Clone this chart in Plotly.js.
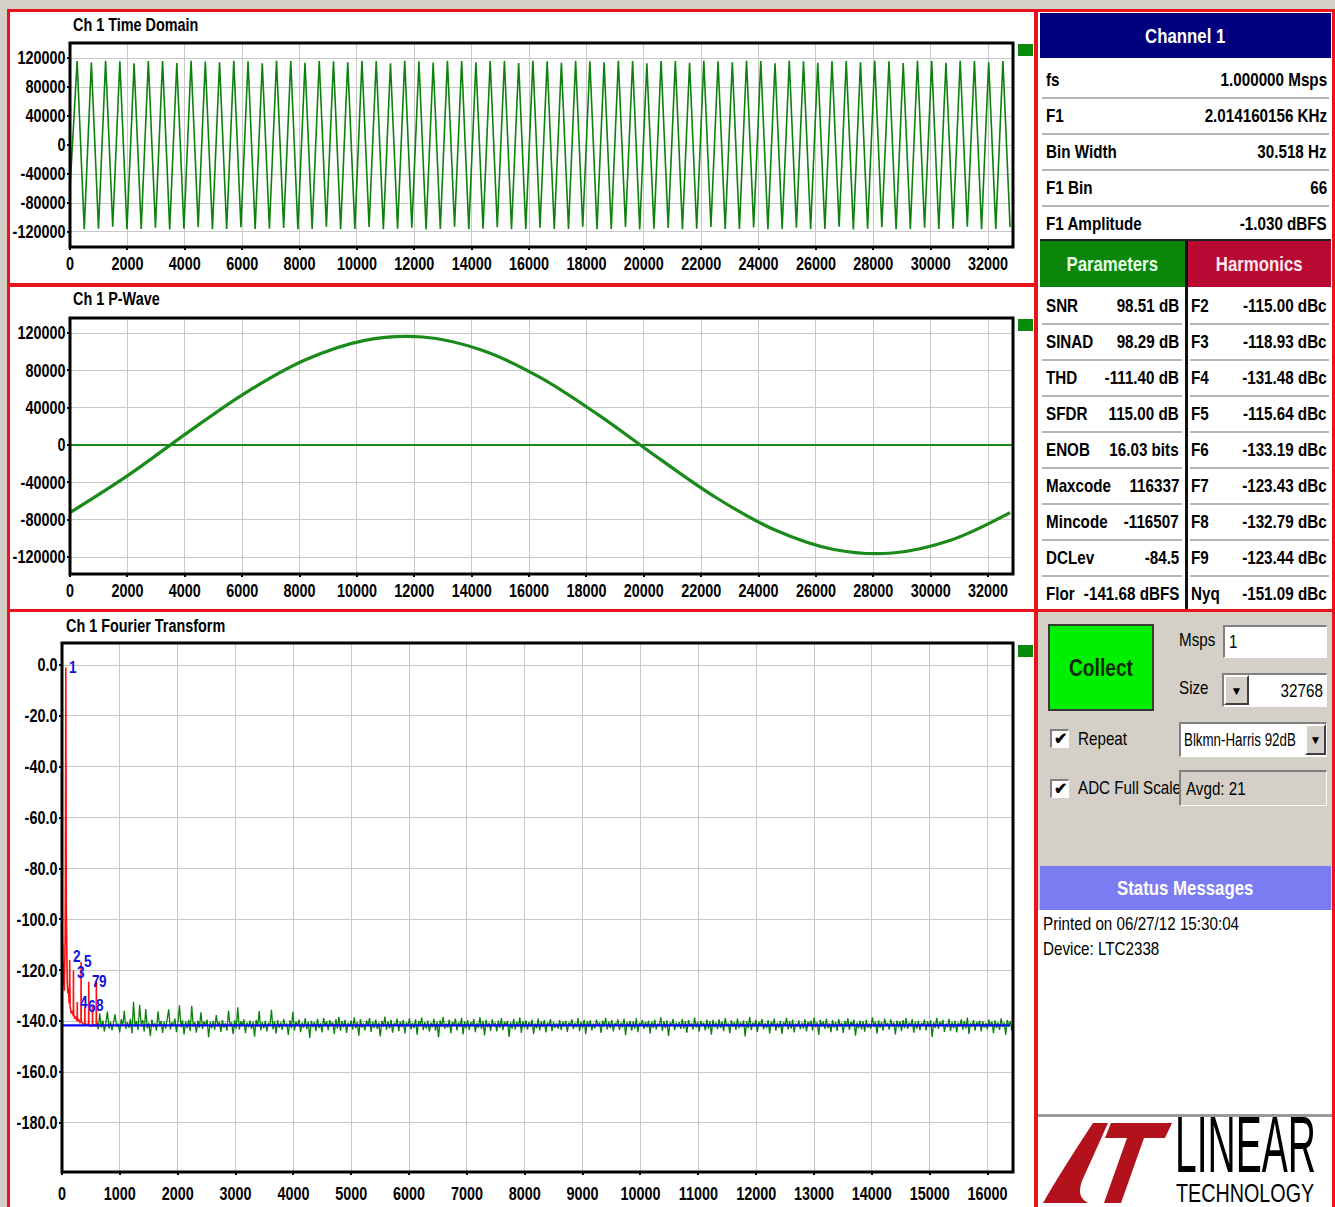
<!DOCTYPE html>
<html><head><meta charset="utf-8">
<script src="https://cdn.plot.ly/plotly-3.0.1.min.js"></script>
<style>
body{margin:0;background:#d4d0c8;width:1335px;height:1207px;overflow:hidden;position:relative;font-family:"Liberation Sans",Arial,sans-serif;}
.abs{position:absolute;box-sizing:border-box;}
.red{border:3px solid #e8141c;pointer-events:none;z-index:20;}
.row{position:absolute;box-sizing:border-box;font-weight:bold;font-size:19px;color:#000;white-space:nowrap;}
.row .l{position:absolute;left:0;top:0;transform:scaleX(0.8);transform-origin:left center;}
.row .v{position:absolute;right:0;top:0;transform:scaleX(0.8);transform-origin:right center;}
.sx{display:inline-block;transform:scaleX(0.8);}
.sep{position:absolute;height:2px;background:#b4b4b4;}
.inset{border-top:2px solid #808080;border-left:2px solid #808080;border-bottom:1px solid #fff;border-right:1px solid #fff;background:#fff;}
.btn{background:#d4d0c8;border-top:2px solid #fff;border-left:2px solid #fff;border-bottom:2px solid #404040;border-right:2px solid #404040;text-align:center;font-size:12px;}
.lbl{position:absolute;font-size:19px;color:#000;white-space:nowrap;transform:scaleX(0.8);transform-origin:left center;}
.ttl{position:absolute;font-size:18px;font-weight:bold;color:#000;white-space:nowrap;transform:scaleX(0.8);transform-origin:left center;z-index:12;}
.logo{position:absolute;color:#000;white-space:nowrap;line-height:1;transform-origin:left top;}
</style></head><body>
<div class="abs" style="left:8px;top:10px;width:1028px;height:1197px;background:#fff;"></div>
<div id="chart" class="abs" style="left:0;top:0;width:1335px;height:1207px;z-index:5;"></div>
<div id="panel" class="abs" style="left:0;top:0;width:1335px;height:1207px;z-index:10;"></div>
<script>
// ---------------- DATA ----------------
// Time domain: alternating peak / trough sample codes, one value every half period
const tdStart = 0;
const tdHalfPeriod = 248.24;
const tdExtremes = [-60000,
 115800,-116200, 113900,-115600, 116100,-112800, 115400,-116300, 112600,-115900, 116000,-114100, 115700,-116400, 113200,-115500, 116200,-112900, 115300,-116100,
 114000,-115800, 116300,-113500, 115600,-116000, 112700,-115400, 116100,-114300, 115900,-116200, 113400,-115700, 116000,-112600, 115500,-116300, 114200,-115900,
 116200,-113100, 115800,-116100, 112800,-115600, 116300,-114000, 115400,-116400, 113600,-115800, 116100,-112700, 115700,-116200, 114100,-115500, 116000,-113300,
 115900,-116300, 112900,-115700, 116200,-114200, 115600,-116000, 113500,-115900, 116300,-112800, 115500,-116100, 114000,-115800, 116100,-113200, 115800,-116400,
 112600,-115600, 116000,-114300, 115700,-116200, 113400,-115500, 116200,-112900, 115400,-116000, 114100,-115900, 116300,-113600, 115900,-116300, 112700,-115700,
 116100,-114000, 115600,-116100, 113300,-115800, 116000,-112800, 115800,-116400, 114200,-115600, 116200,-113500, 115500,-116200, 112900,-115900, 116100,-114100,
 115700,-116000, 113400,-115500, 116300,-112600, 115900,-116300, 114000,-115700, 116000,-113000];
const tdXTicks = [0,2000,4000,6000,8000,10000,12000,14000,16000,18000,20000,22000,24000,26000,28000,30000,32000];
const tdYTicks = [120000,80000,40000,0,-40000,-80000,-120000];
const tdYLabels = ["120000","80000","40000","0","-40000","-80000","-120000"];

// P-Wave: one period, value every 2048 samples
const pwStep = 2048;
const pwValues = [-72400,-32000,13300,56500,91100,111900,115700,101800,72500,32000,-13300,-56500,-91100,-111900,-115700,-101800,-72500];
const pwYTicks = tdYTicks;
const pwYLabels = tdYLabels;

// FFT
const fftBins = 16384;
const fftXTicks = [0,1000,2000,3000,4000,5000,6000,7000,8000,9000,10000,11000,12000,13000,14000,15000,16000];
const fftYTicks = [0,-20,-40,-60,-80,-100,-120,-140,-160,-180];
const fftYLabels = ["0.0","-20.0","-40.0","-60.0","-80.0","-100.0","-120.0","-140.0","-160.0","-180.0"];
const noiseStart = 600;
const noiseStep = 26.5;
const noiseLevels = [
-140.1,-143.2,-137.0,-142.5,-139.8,-144.0,-140.6,-136.2,-142.9,-140.3,-143.6,-139.5,-137.3,-142.2,-140.9,-144.4,-139.2,-141.8,-135.9,-143.0,
-140.4,-142.6,-139.1,-144.8,-132.4,-142.1,-140.0,-143.5,-133.6,-141.2,-139.6,-144.1,-135.2,-142.8,-140.7,-145.9,-139.4,-142.3,-140.8,-143.7,
-136.1,-142.0,-139.9,-144.6,-140.2,-142.9,-139.3,-135.4,-143.3,-140.5,-141.9,-139.0,-144.3,-140.6,-133.8,-142.4,-139.7,-145.2,-140.1,-142.7,
-139.5,-143.9,-134.0,-142.2,-140.4,-144.5,-139.8,-142.6,-136.5,-143.1,-140.0,-141.7,-139.4,-146.3,-140.3,-142.8,-139.9,-143.4,-137.6,-142.1,
-140.2,-144.2,-139.6,-142.5,-140.8,-143.8,-135.8,-142.0,-140.5,-145.1,-139.7,-142.9,-134.6,-143.3,-140.1,-141.6,-139.3,-144.7,-140.6,-142.4,
-139.8,-143.0,-140.3,-146.1,-139.5,-142.2,-136.0,-143.6,-140.4,-142.7,-139.9,-144.0,-140.7,-141.9,-135.5,-143.2,-140.0,-144.9,-139.6,-142.5,
-140.5,-143.4,-139.2,-142.1,-140.9,-145.4,-139.7,-142.8,-136.3,-143.7,-140.2,-141.8,-139.4,-144.3,-140.6,-142.6,-138.9,-143.1,-140.3,-146.6,
-139.9,-142.3,-140.4,-143.9,-139.1,-142.7,-140.8,-144.4,-138.7,-142.0,-140.1,-143.5,-139.6,-141.7,-140.5,-145.0,-139.3,-142.9,-138.3,-143.8,
-140.0,-142.4,-139.5,-144.6,-140.7,-142.1,-139.8,-143.3,-138.5,-142.8,-140.4,-145.7,-139.2,-142.5,-140.9,-143.6,-139.7,-141.9,-138.8,-144.2,
-140.3,-142.6,-139.4,-143.0,-140.6,-146.0,-139.9,-142.2,-138.2,-143.4,-140.1,-142.8,-139.5,-144.5,-140.8,-141.8,-139.0,-143.9,-140.2,-142.3,
-139.6,-144.8,-140.5,-142.0,-138.9,-143.2,-140.7,-142.7,-139.3,-145.3,-140.0,-141.6,-138.6,-143.5,-140.4,-142.9,-139.8,-144.1,-140.6,-142.4,
-139.1,-143.7,-140.2,-146.4,-139.7,-142.3,-138.4,-143.0,-140.9,-142.5,-139.4,-144.7,-140.3,-141.9,-139.0,-143.6,-140.5,-142.2,-138.7,-145.2,
-140.1,-142.8,-139.6,-143.4,-140.4,-142.0,-139.2,-144.3,-140.8,-142.6,-138.5,-143.1,-140.0,-145.6,-139.5,-142.4,-140.7,-143.8,-139.3,-142.1,
-140.6,-144.0,-139.8,-142.7,-138.8,-143.5,-140.2,-141.7,-139.9,-146.2,-140.5,-142.9,-139.1,-143.2,-140.3,-142.3,-138.6,-144.6,-140.0,-142.5,
-139.7,-143.3,-140.4,-142.1,-139.4,-145.0,-140.9,-142.8,-138.9,-143.6,-140.1,-142.2,-139.6,-144.4,-140.6,-141.8,-139.2,-143.9,-140.3,-142.6,
-140.8,-142.9,-139.6,-143.5,-140.2,-142.0,-139.9,-144.2,-140.6,-141.7,-139.3,-143.1,-140.7,-142.4,-138.8,-143.9,-140.3,-142.6,-139.5,-145.1,
-140.0,-142.2,-139.7,-143.6,-140.9,-142.8,-139.4,-141.9,-140.5,-144.6,-139.8,-142.1,-138.7,-143.3,-140.2,-142.7,-139.6,-144.0,-140.8,-141.8,
-139.3,-143.4,-140.6,-142.5,-139.0,-145.5,-140.4,-142.2,-139.9,-143.7,-140.1,-142.9,-138.9,-144.3,-140.7,-141.6,-139.5,-143.0,-140.3,-142.4,
-139.8,-144.9,-140.2,-142.6,-139.4,-143.2,-140.9,-142.0,-138.5,-143.8,-140.0,-142.7,-139.7,-145.8,-140.5,-141.9,-139.1,-143.5,-140.6,-142.3,
-140.4,-143.0,-139.2,-142.8,-140.1,-144.5,-139.6,-142.1,-140.8,-143.3,-138.6,-142.5,-140.3,-144.1,-139.9,-141.7,-140.7,-143.6,-139.4,-142.9,
-140.0,-145.3,-139.5,-142.4,-140.6,-143.1,-139.3,-142.6,-140.2,-143.9,-138.8,-142.0,-140.9,-144.7,-139.7,-142.2,-140.4,-143.4,-139.0,-142.8,
-140.5,-142.3,-139.8,-146.0,-140.1,-142.7,-138.4,-143.5,-140.6,-142.1,-139.5,-144.2,-140.3,-141.9,-139.2,-143.2,-140.8,-142.6,-139.6,-144.8,
-140.2,-142.0,-139.0,-143.7,-140.7,-142.5,-139.9,-145.0,-140.4,-141.8,-138.7,-143.3,-140.0,-142.9,-139.4,-144.4,-140.9,-142.2,-139.7,-143.1,
-140.6,-142.8,-139.3,-144.0,-140.2,-141.7,-139.8,-143.6,-138.6,-142.4,-140.5,-145.4,-139.5,-142.1,-140.1,-143.0,-139.1,-142.7,-140.8,-144.3,
-139.6,-142.5,-140.4,-143.8,-139.2,-142.0,-140.7,-144.6,-139.9,-142.3,-138.9,-143.4,-140.3,-141.6,-139.4,-145.7,-140.6,-142.8,-139.8,-143.2,
-140.1,-144.1,-139.5,-142.6,-140.9,-143.0,-138.5,-142.2,-140.2,-144.9,-139.7,-142.5,-140.4,-143.7,-139.0,-141.9,-140.8,-143.3,-139.3,-142.1,
-140.5,-145.2,-139.8,-142.4,-140.0,-143.9,-139.6,-142.7,-138.8,-143.1,-140.6,-142.0,-139.2,-144.5,-140.3,-142.9,-139.9,-143.5,-140.7,-141.8,
-139.4,-143.6,-140.1,-142.3,-139.7,-146.2,-140.5,-142.6,-138.7,-143.0,-140.2,-141.9,-139.5,-144.2,-140.9,-142.4,-139.1,-143.8,-140.4,-142.7,
-139.9,-144.4,-140.6,-142.1,-139.3,-143.3,-140.0,-142.8,-138.6,-145.0,-140.7,-142.2,-139.6,-143.7,-140.3,-141.7,-139.8,-144.0,-140.1,-142.5,
-140.8,-143.2,-139.4,-142.0,-140.2,-144.7,-139.7,-142.6,-140.5,-143.4,-138.9,-142.3,-140.6,-145.3,-139.5,-142.1,-140.0,-143.9,-139.2,-142.8];
// Fundamental + harmonic region (red)
const sigBins = [0,4,8,12,16,20,26,32,40,48,54,58,62,64,66,68,70,74,80,90,100,112,124,130,132,134,140,160,180,196,198,200,220,240,262,264,266,290,310,328,330,332,360,394,396,398,430,460,462,464,500,526,528,530,560,592,594,596];
const sigLevels = [-112,-106,-113,-110,-120,-117,-126,-122,-128,-120,-108,-88,-40,-8,-1.03,-9,-45,-95,-118,-124,-129,-127,-133,-130,-116,-131,-134,-137,-136,-138,-120,-137,-139,-138.5,-140,-132.5,-140,-139.5,-140.5,-140,-116.7,-140,-141,-141.5,-134.2,-141,-141.5,-141,-124.5,-141.5,-142,-141.5,-133.8,-142,-141.5,-142,-124.5,-142];
const noiseFloor = -141.68;
const harmNames = ["1","2","3","4","5","6","7","8","9"];
const harmBins = [66,132,198,264,330,396,462,528,594];
const harmLevels = [-1.03,-116.0,-120.0,-132.5,-116.7,-134.2,-124.5,-133.8,-124.5];

// Right panel texts
const chanLabels = ["fs","F1","Bin Width","F1 Bin","F1 Amplitude"];
const chanValues = ["1.000000 Msps","2.014160156 KHz","30.518 Hz","66","-1.030 dBFS"];
const paramLabels = ["SNR","SINAD","THD","SFDR","ENOB","Maxcode","Mincode","DCLev","Flor"];
const paramValues = ["98.51 dB","98.29 dB","-111.40 dB","115.00 dB","16.03 bits","116337","-116507","-84.5","-141.68 dBFS"];
const harmLabels = ["F2","F3","F4","F5","F6","F7","F8","F9","Nyq"];
const harmValues = ["-115.00 dBc","-118.93 dBc","-131.48 dBc","-115.64 dBc","-133.19 dBc","-123.43 dBc","-132.79 dBc","-123.44 dBc","-151.09 dBc"];

// ---------------- LAYOUT ----------------
const W = 1335, H = 1207;
const FONT = '"Liberation Sans",Arial,sans-serif';
const px = v => v / W;
const py = v => 1 - v / H;
const tickFont = {family: FONT, size: 18, color: '#000', weight: 'bold'};

function xAx(l, r, range, ticks, anchor, standoff) {
  return {domain: [px(l), px(r)], range: range, anchor: anchor, tickmode: 'array', tickvals: ticks,
    ticktext: ticks.map(String), showgrid: true, gridcolor: '#c8c8c8', gridwidth: 1, zeroline: false,
    ticks: 'outside', ticklen: 2, tickwidth: 2, tickcolor: '#000', tickfont: tickFont, showline: false,
    ticklabelstandoff: standoff, fixedrange: true};
}
function yAx(t, b, range, ticks, labels, anchor) {
  return {domain: [py(b), py(t)], range: range, anchor: anchor, tickmode: 'array', tickvals: ticks,
    ticktext: labels, showgrid: true, gridcolor: '#c8c8c8', gridwidth: 1, zeroline: false,
    ticks: 'outside', ticklen: 2, tickwidth: 2, tickcolor: '#000', tickfont: tickFont, showline: false,
    ticklabelstandoff: -2, fixedrange: true};
}

const traces = [
  {x0: tdStart, dx: tdHalfPeriod, y: tdExtremes, xaxis: 'x', yaxis: 'y', mode: 'lines',
   line: {color: '#0c820c', width: 1.6}},
  {x0: 0, dx: pwStep, y: pwValues, xaxis: 'x2', yaxis: 'y2', mode: 'lines',
   line: {color: '#1a8a1a', width: 3.2, shape: 'spline'}},
  {x0: noiseStart, dx: noiseStep, y: noiseLevels, xaxis: 'x3', yaxis: 'y3', mode: 'lines',
   line: {color: '#0a820a', width: 1.3}},
  {x: sigBins, y: sigLevels, xaxis: 'x3', yaxis: 'y3', mode: 'lines',
   line: {color: '#ff1010', width: 1.6}},
  {x: [0, fftBins], y: [noiseFloor, noiseFloor], xaxis: 'x3', yaxis: 'y3', mode: 'lines',
   line: {color: '#0a0aff', width: 2.2}}
];

const layout = {
  width: W, height: H, margin: {l: 0, r: 0, t: 0, b: 0},
  paper_bgcolor: 'rgba(0,0,0,0)', plot_bgcolor: '#fff', showlegend: false, hovermode: false,
  font: {family: FONT, color: '#000'},
  xaxis: xAx(70, 1013, [0, 32871], tdXTicks, 'y', -2),
  yaxis: yAx(43, 247, [-140700, 140700], tdYTicks, tdYLabels, 'x'),
  xaxis2: xAx(70, 1013, [0, 32871], tdXTicks, 'y2', -2),
  yaxis2: Object.assign(yAx(318, 574, [-138200, 136070], pwYTicks, pwYLabels, 'x2'),
     {zeroline: true, zerolinecolor: '#1a8a1a', zerolinewidth: 2.6}),
  xaxis3: xAx(62, 1013, [0, 16440], fftXTicks, 'y3', 3),
  yaxis3: yAx(643, 1172, [-199.3, 8.65], fftYTicks, fftYLabels, 'x3'),
  shapes: [],
  annotations: []
};
[['x','y'],['x2','y2'],['x3','y3']].forEach(([xa, ya]) => {
  layout.shapes.push({type: 'rect', xref: xa + ' domain', yref: ya + ' domain', x0: 0, x1: 1, y0: 0, y1: 1,
    line: {color: '#000', width: 3}});
});
[[44, 56], [319, 331], [645, 657]].forEach(([t, b]) => {
  layout.shapes.push({type: 'rect', xref: 'paper', yref: 'paper', x0: px(1018), x1: px(1033), y0: py(b), y1: py(t),
    fillcolor: '#0a8a0a', line: {width: 0}});
});
harmNames.forEach((n, i) => {
  layout.annotations.push({text: n, xref: 'x3', yref: 'y3', x: harmBins[i], y: harmLevels[i], xanchor: 'left', yanchor: 'middle',
    xshift: n === '3' ? 1 : 0, yshift: n === '2' ? 4 : (n === '3' ? -2 : 0), showarrow: false,
    font: {family: FONT, size: 17, color: '#1010e0', weight: 'bold'}});
});

Plotly.newPlot('chart', traces, layout, {staticPlot: true, displayModeBar: false}).then(() => {
  // narrow the label glyphs (condensed look) around their anchor points
  const s = 0.8;
  document.querySelectorAll('#chart [class*="tick"] > text, #chart .annotation-text').forEach(t => {
    const a = parseFloat(t.getAttribute('x')) || 0;
    const tr = t.getAttribute('transform') || '';
    t.setAttribute('transform', tr + ' translate(' + ((1 - s) * a) + ',0) scale(' + s + ',1)');
  });
});

// ---------------- RIGHT PANEL (HTML) ----------------
const P = document.getElementById('panel');
function add(html) { P.insertAdjacentHTML('beforeend', html); }
function box(l, t, w, h, style, inner, cls) {
  add(`<div class="abs ${cls || ''}" style="left:${l}px;top:${t}px;width:${w}px;height:${h}px;${style}">${inner || ''}</div>`);
}
const sx = t => `<span class="sx">${t}</span>`;
// chart titles
add(`<div class="ttl" style="left:73px;top:15px;">Ch 1 Time Domain</div>`);
add(`<div class="ttl" style="left:73px;top:289px;">Ch 1 P-Wave</div>`);
add(`<div class="ttl" style="left:66px;top:616px;">Ch 1 Fourier Transform</div>`);
// backgrounds
box(1038, 12, 295, 600, 'background:#fff;');
box(1038, 612, 295, 254, 'background:#d4d0c8;');
box(1040, 866, 291, 44, 'background:#7b7bf2;color:#fff;font-weight:bold;font-size:21px;text-align:center;line-height:44px;', sx('Status Messages'));
box(1038, 910, 295, 205, 'background:#fff;');
box(1038, 1114, 295, 3, 'background:#9a9a9a;');
box(1038, 1117, 295, 92, 'background:#fff;');
// Channel 1 header
box(1040, 13, 291, 45, 'background:#00007f;color:#fff;font-weight:bold;font-size:21px;text-align:center;line-height:45px;', sx('Channel 1'));
chanLabels.forEach((lab, i) => {
  const t = 62 + 36 * i;
  add(`<div class="row" style="left:1046px;top:${t}px;width:281px;height:36px;line-height:36px;"><span class="l">${lab}</span><span class="v">${chanValues[i]}</span></div>`);
  if (i < 4) add(`<div class="sep" style="left:1042px;top:${t + 35}px;width:287px;"></div>`);
});
box(1040, 239, 291, 2, 'background:#202020;');
box(1040, 241, 145, 46, 'background:#0a870a;color:#e8ffe8;font-weight:bold;font-size:21px;text-align:center;line-height:46px;', sx('Parameters'));
box(1188, 241, 143, 46, 'background:#b80a32;color:#ffe8ee;font-weight:bold;font-size:21px;text-align:center;line-height:46px;', sx('Harmonics'));
box(1185, 241, 3, 370, 'background:#101010;');
paramLabels.forEach((lab, i) => {
  const t = 288 + 36 * i;
  add(`<div class="row" style="left:1046px;top:${t}px;width:133px;height:36px;line-height:36px;"><span class="l">${lab}</span><span class="v">${paramValues[i]}</span></div>`);
  add(`<div class="row" style="left:1191px;top:${t}px;width:136px;height:36px;line-height:36px;"><span class="l">${harmLabels[i]}</span><span class="v">${harmValues[i]}</span></div>`);
  if (i < 8) {
    add(`<div class="sep" style="left:1042px;top:${t + 35}px;width:140px;"></div>`);
    add(`<div class="sep" style="left:1190px;top:${t + 35}px;width:139px;"></div>`);
  }
});
// Controls
box(1048, 624, 106, 87, 'background:#00f000;border:2px solid #3a3a3a;color:#0a2a0a;font-weight:bold;font-size:24px;text-align:center;line-height:83px;', sx('Collect'));
add(`<div class="lbl" style="left:1179px;top:629px;">Msps</div>`);
add(`<div class="abs inset" style="left:1223px;top:625px;width:104px;height:33px;"><div class="lbl" style="left:4px;top:4px;">1</div></div>`);
add(`<div class="lbl" style="left:1179px;top:677px;">Size</div>`);
add(`<div class="abs inset" style="left:1222px;top:673px;width:105px;height:34px;"><div class="abs btn" style="left:0;top:0;width:25px;height:30px;line-height:28px;">&#9660;</div><div class="lbl" style="right:3px;top:5px;transform-origin:right center;">32768</div></div>`);
add(`<div class="abs inset" style="left:1050px;top:729px;width:19px;height:19px;font-size:16px;line-height:16px;text-align:center;font-weight:bold;">&#10004;</div>`);
add(`<div class="lbl" style="left:1078px;top:728px;">Repeat</div>`);
add(`<div class="abs inset" style="left:1179px;top:722px;width:148px;height:35px;"><div class="lbl" style="left:3px;top:6px;font-size:18px;transform:scaleX(0.74);">Blkmn-Harris 92dB</div><div class="abs btn" style="right:0;top:0;width:21px;height:31px;line-height:29px;">&#9660;</div></div>`);
add(`<div class="abs inset" style="left:1050px;top:779px;width:19px;height:19px;font-size:16px;line-height:16px;text-align:center;font-weight:bold;">&#10004;</div>`);
add(`<div class="lbl" style="left:1078px;top:777px;">ADC Full Scale</div>`);
add(`<div class="abs inset" style="left:1179px;top:770px;width:148px;height:36px;background:#d4d0c8;"><div class="lbl" style="left:5px;top:6px;">Avgd: 21</div></div>`);
// Status messages
add(`<div class="lbl" style="left:1043px;top:913px;">Printed on 06/27/12 15:30:04</div>`);
add(`<div class="lbl" style="left:1043px;top:938px;">Device: LTC2338</div>`);
// Logo (mark as SVG shapes, words as HTML text squeezed to shape)
add(`<svg class="abs" style="left:1038px;top:1117px;" width="140" height="90" viewBox="0 0 140 90">
 <path d="M55,6 L70,6 L44,64 Q38,80 50,86 L5,86 Q22,56 55,6 Z" fill="#b3121c"/>
 <path d="M73,6 L134,6 L127,21 L106,21 L83,86 L66,86 L89,21 L67,21 Z" fill="#b3121c"/>
</svg>`);
add(`<div class="logo" style="left:1175px;top:1110px;font-size:50px;line-height:0.9;transform:scale(0.78,1.6);">LINEAR</div>`);
add(`<div class="logo" style="left:1176px;top:1183px;font-size:21px;line-height:0.9;transform:scale(0.94,1.2);">TECHNOLOGY</div>`);
// Red borders
box(7, 9, 1030, 277, '', '', 'red');
box(7, 284, 1030, 328, '', '', 'red');
box(7, 609, 1030, 610, '', '', 'red');
box(1035, 9, 300, 603, '', '', 'red');
box(1035, 609, 300, 610, '', '', 'red');
</script>
</body></html>
